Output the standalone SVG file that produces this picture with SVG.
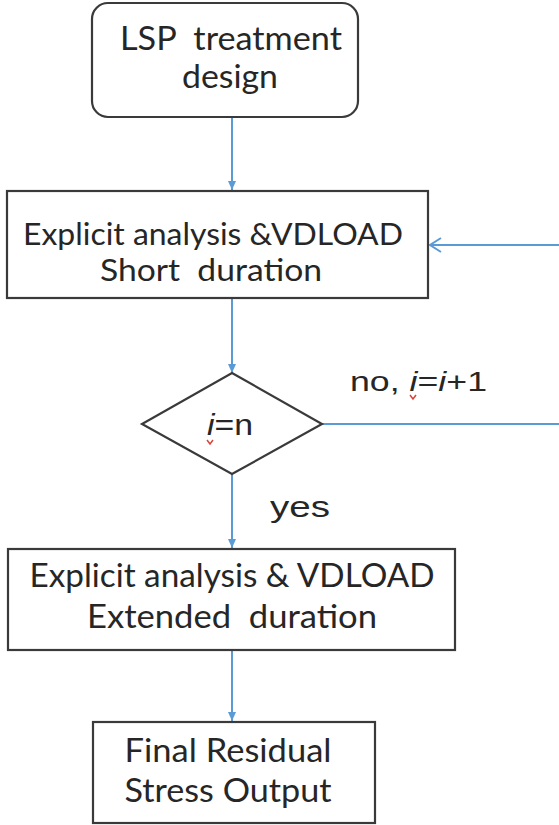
<svg xmlns="http://www.w3.org/2000/svg" width="559" height="825" viewBox="0 0 559 825">
  <style>
    .box { fill: #ffffff; stroke: #3a3a3a; stroke-width: 2.2; }
    .lbl { font-family: Lato, "Liberation Sans", sans-serif; fill: #262626; text-anchor: middle; white-space: pre; }
    .math { font-family: "Liberation Sans", Arial, sans-serif; fill: #262626; white-space: pre; }
    .edge { fill: none; stroke: #5b9bd5; stroke-width: 2; }
    .squiggle { fill: none; stroke: #d9443a; stroke-width: 1.5; }
  </style>
  <defs>
    <marker id="tri" markerWidth="10" markerHeight="10" refX="9" refY="5" orient="auto" markerUnits="userSpaceOnUse">
      <path d="M0,1 L9,5 L0,9 Z" fill="#5b9bd5"/>
    </marker>
    <marker id="open" markerWidth="14" markerHeight="16" refX="12" refY="8" orient="auto" markerUnits="userSpaceOnUse">
      <path d="M1,1 L12,8 L1,15" fill="none" stroke="#5b9bd5" stroke-width="2"/>
    </marker>
  </defs>
  <rect width="559" height="825" fill="#ffffff"/>

  <!-- connectors -->
  <g id="connectors">
    <line class="edge" x1="232" y1="118" x2="232" y2="190" marker-end="url(#tri)"/>
    <line class="edge" x1="232" y1="298" x2="232" y2="373" marker-end="url(#tri)"/>
    <line class="edge" x1="232" y1="474" x2="232" y2="548" marker-end="url(#tri)"/>
    <line class="edge" x1="232" y1="651" x2="232" y2="721" marker-end="url(#tri)"/>
    <!-- loop back: diamond right corner out to the edge, then back into the short-duration step -->
    <path class="edge" d="M322,424 H563 V245 H430" marker-end="url(#open)"/>
    <text class="math" x="350" y="391" font-size="27" textLength="137" lengthAdjust="spacingAndGlyphs">no, <tspan font-style="italic">i</tspan>=<tspan font-style="italic">i</tspan>+1</text>
    <path class="squiggle" d="M410,395 L413,399 L416,395"/>
    <text class="math" x="270" y="517" font-size="30" textLength="60" lengthAdjust="spacingAndGlyphs">yes</text>
  </g>

  <!-- start -->
  <g id="lsp-design">
    <rect class="box" x="92" y="3" width="266" height="114" rx="16" ry="16"/>
    <text class="lbl" x="231" y="50" font-size="32" textLength="222" lengthAdjust="spacingAndGlyphs">LSP  treatment</text>
    <text class="lbl" x="230" y="88" font-size="32" textLength="96" lengthAdjust="spacingAndGlyphs">design</text>
  </g>

  <g id="explicit-short">
    <rect class="box" x="7" y="191" width="421" height="107"/>
    <text class="lbl" x="213" y="245" font-size="30" textLength="380" lengthAdjust="spacingAndGlyphs">Explicit analysis &amp;VDLOAD</text>
    <text class="lbl" x="211" y="281" font-size="30" textLength="222" lengthAdjust="spacingAndGlyphs">Short  duration</text>
  </g>

  <g id="check-i">
    <polygon class="box" points="232,373 322,424 232,474 142,424"/>
    <text class="math" x="207" y="435" font-size="30" textLength="46" lengthAdjust="spacingAndGlyphs"><tspan font-style="italic">i</tspan>=n</text>
    <path class="squiggle" d="M207,440 L210,444 L213,440"/>
  </g>

  <g id="explicit-extended">
    <rect class="box" x="8" y="549" width="447" height="101"/>
    <text class="lbl" x="232" y="587" font-size="33" textLength="405" lengthAdjust="spacingAndGlyphs">Explicit analysis &amp; VDLOAD</text>
    <text class="lbl" x="232" y="628" font-size="33" textLength="290" lengthAdjust="spacingAndGlyphs">Extended  duration</text>
  </g>

  <g id="residual-output">
    <rect class="box" x="93" y="722" width="282" height="101"/>
    <text class="lbl" x="228" y="762" font-size="33" textLength="207" lengthAdjust="spacingAndGlyphs">Final Residual</text>
    <text class="lbl" x="228" y="802" font-size="33" textLength="207" lengthAdjust="spacingAndGlyphs">Stress Output</text>
  </g>
</svg>
